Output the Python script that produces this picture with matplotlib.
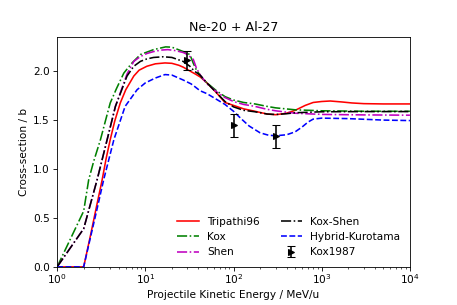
import matplotlib
matplotlib.use("Agg")
import matplotlib.pyplot as plt

# Tripathi96
e_trip = [1, 2, 2.4, 2.8, 3.24, 3.6, 4.0, 4.5, 5.2, 6, 7.4, 8.5, 10.4, 13, 16.7, 20, 24, 27, 33, 37, 42, 50, 64, 80,
          100, 130, 175, 240, 300, 400, 500, 650, 800, 1000, 1250, 1700, 2200, 3000, 5000, 10000]
s_trip = [0, 0, 0.33, 0.62, 0.89, 1.11, 1.30, 1.49, 1.675, 1.81, 1.95, 2.01, 2.05, 2.075, 2.084, 2.08, 2.06, 2.04, 1.995,
          1.97, 1.94, 1.88, 1.78, 1.68, 1.65, 1.615, 1.59, 1.562, 1.555, 1.57, 1.60, 1.65, 1.68, 1.69, 1.695, 1.685,
          1.675, 1.668, 1.665, 1.665]

# Kox
e_kox = [1, 2, 2.28, 2.6, 3.1, 3.5, 4, 4.7, 5.7, 7, 8.8, 12.4, 17, 20, 27, 32, 35, 38, 45, 50, 64, 80,
         100, 130, 175, 240, 300, 500, 1000, 3000, 10000]
s_kox = [0, 0.57, 0.89, 1.08, 1.30, 1.48, 1.675, 1.82, 1.98, 2.08, 2.17, 2.22, 2.248, 2.245, 2.20, 2.17, 2.08, 2.01,
         1.92, 1.88, 1.80, 1.74, 1.705, 1.68, 1.665, 1.64, 1.625, 1.605, 1.595, 1.59, 1.59]

# Shen
e_shen = [1, 2, 2.4, 2.84, 3.69, 4.58, 6.2, 7.4, 8.8, 10.4, 12.4, 15, 18, 22, 27, 30, 35, 38, 42, 50, 64, 80,
          100, 130, 175, 240, 300, 500, 1000, 3000, 10000]
s_shen = [0, 0.39, 0.65, 0.89, 1.30, 1.64, 1.97, 2.10, 2.15, 2.18, 2.20, 2.215, 2.22, 2.21, 2.19, 2.17, 2.12, 2.03,
          1.96, 1.87, 1.79, 1.73, 1.69, 1.66, 1.64, 1.61, 1.595, 1.57, 1.558, 1.553, 1.55]

# Kox-Shen
e_ks = [1, 2, 2.4, 2.84, 3.69, 4.58, 6.2, 7.4, 8.8, 10.4, 12.4, 16, 20, 26.8, 32, 36, 41.7, 50, 64, 80,
        100, 130, 175, 240, 300, 400, 500, 1000, 3000, 10000]
s_ks = [0, 0.39, 0.65, 0.89, 1.30, 1.64, 1.95, 2.05, 2.10, 2.125, 2.14, 2.147, 2.14, 2.10, 2.05, 2.0, 1.96, 1.88,
        1.78, 1.69, 1.635, 1.60, 1.585, 1.562, 1.557, 1.565, 1.575, 1.585, 1.587, 1.587]

# Hybrid-Kurotama
e_hk = [1, 2, 2.4, 2.8, 3.37, 4.4, 5.9, 8.06, 10, 13, 16.7, 20, 26.8, 33, 36.6, 41.7, 50, 62, 80, 100, 120, 150,
        200, 250, 300, 400, 500, 600, 700, 800, 1000, 2000, 5000, 10000]
s_hk = [0, 0, 0.31, 0.57, 0.89, 1.30, 1.64, 1.81, 1.88, 1.93, 1.965, 1.96, 1.91, 1.87, 1.84, 1.80, 1.77, 1.72,
        1.66, 1.59, 1.52, 1.44, 1.37, 1.345, 1.34, 1.35, 1.38, 1.43, 1.48, 1.51, 1.52, 1.515, 1.50, 1.495]

# Kox1987 data
e_exp = [30, 100, 300]
s_exp = [2.11, 1.445, 1.333]
err_exp = [0.1, 0.12, 0.12]

DPI = 76
fig, ax = plt.subplots(figsize=(457 / DPI, 305 / DPI), dpi=DPI)
fig.subplots_adjust(left=0.125, right=0.897, top=0.879, bottom=0.125)
ax.plot(e_trip, s_trip, color='r', linestyle='-', label='Tripathi96')
ax.plot(e_kox, s_kox, color='g', linestyle='-.', label='Kox')
ax.plot(e_shen, s_shen, color='m', linestyle='-.', label='Shen')
ax.plot(e_ks, s_ks, color='k', linestyle='-.', label='Kox-Shen')
ax.plot(e_hk, s_hk, color='b', linestyle='--', label='Hybrid-Kurotama')
ax.errorbar(e_exp, s_exp, yerr=err_exp, fmt='>', color='k', capsize=4, label='Kox1987')

ax.set_xscale('log')
ax.set_xlim(1, 10000)
ax.set_ylim(0, 2.35)
ax.set_yticks([0.0, 0.5, 1.0, 1.5, 2.0])
ax.tick_params(axis='x', which='both', pad=1.5)
ax.set_xlabel('Projectile Kinetic Energy / MeV/u')
ax.set_ylabel('Cross-section / b')
ax.set_title('Ne-20 + Al-27')
ax.legend(loc='lower right', ncol=2, frameon=False)

fig.savefig('out.png', dpi=DPI)
